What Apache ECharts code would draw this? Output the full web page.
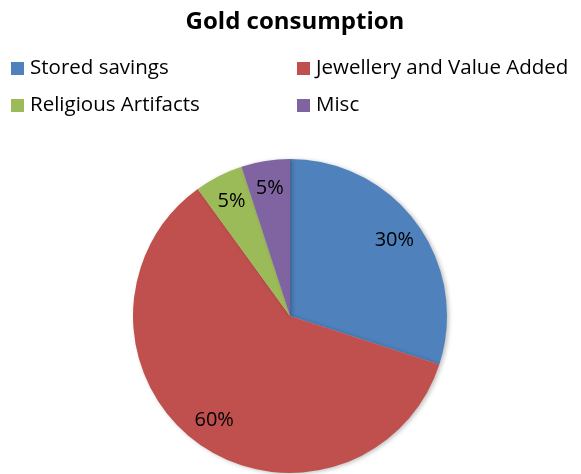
<!DOCTYPE html>
<html>
<head>
<meta charset="utf-8">
<script src="https://cdn.jsdelivr.net/npm/echarts@6/dist/echarts.min.js"></script>
<style>
  html, body { margin: 0; padding: 0; background: #fff; }
  #chart { width: 581px; height: 474px; }
</style>
</head>
<body>
<div id="chart"></div>
<script>
// Gold consumption shares (percent)
const categories = ['Stored savings', 'Jewellery and Value Added', 'Religious Artifacts', 'Misc'];
const shares = [30, 60, 5, 5];
const sliceColors = ['#4F81BD', '#C0504D', '#9BBB59', '#8064A2'];

const pieData = categories.map((name, i) => ({ name: name, value: shares[i] }));
const FONT = '"Open Sans", "Noto Sans", sans-serif';

const legendBase = {
  orient: 'vertical', top: 53, itemGap: 16,
  itemWidth: 13, itemHeight: 13, icon: 'rect',
  textStyle: { fontFamily: FONT, fontSize: 20.5, color: '#000', padding: [0, 0, 0, 1] }
};

const chart = echarts.init(document.getElementById('chart'), null, { renderer: 'canvas' });
chart.setOption({
  animation: false,
  color: sliceColors,
  title: {
    text: 'Gold consumption',
    left: 290,
    textAlign: 'center',
    top: 5,
    textStyle: { fontFamily: FONT, fontSize: 24, fontWeight: 'bold', color: '#000' }
  },
  legend: [
    Object.assign({}, legendBase, { left: 6, data: [categories[0], categories[2]] }),
    Object.assign({}, legendBase, { left: 292, data: [categories[1], categories[3]] })
  ],
  series: [
    {
      type: 'pie',
      center: [290, 316],
      radius: [0, 157],
      startAngle: 90,
      clockwise: true,
      data: pieData,
      label: { show: false },
      labelLine: { show: false },
      itemStyle: {
        borderWidth: 0,
        shadowBlur: 4,
        shadowOffsetX: 2,
        shadowOffsetY: 1,
        shadowColor: 'rgba(0,0,0,0.25)'
      },
      emphasis: { disabled: true }
    },
    {
      // transparent ring that carries the percentage labels near the rim
      type: 'pie',
      center: [290, 316],
      radius: [95, 157],
      startAngle: 90,
      clockwise: true,
      silent: true,
      data: pieData,
      itemStyle: { color: 'rgba(0,0,0,0)', borderWidth: 0 },
      label: {
        show: true,
        position: 'inside',
        formatter: p => p.value + '%',
        fontFamily: FONT,
        fontSize: 20,
        color: '#000'
      },
      labelLine: { show: false },
      emphasis: { disabled: true }
    }
  ]
});
</script>
</body>
</html>
